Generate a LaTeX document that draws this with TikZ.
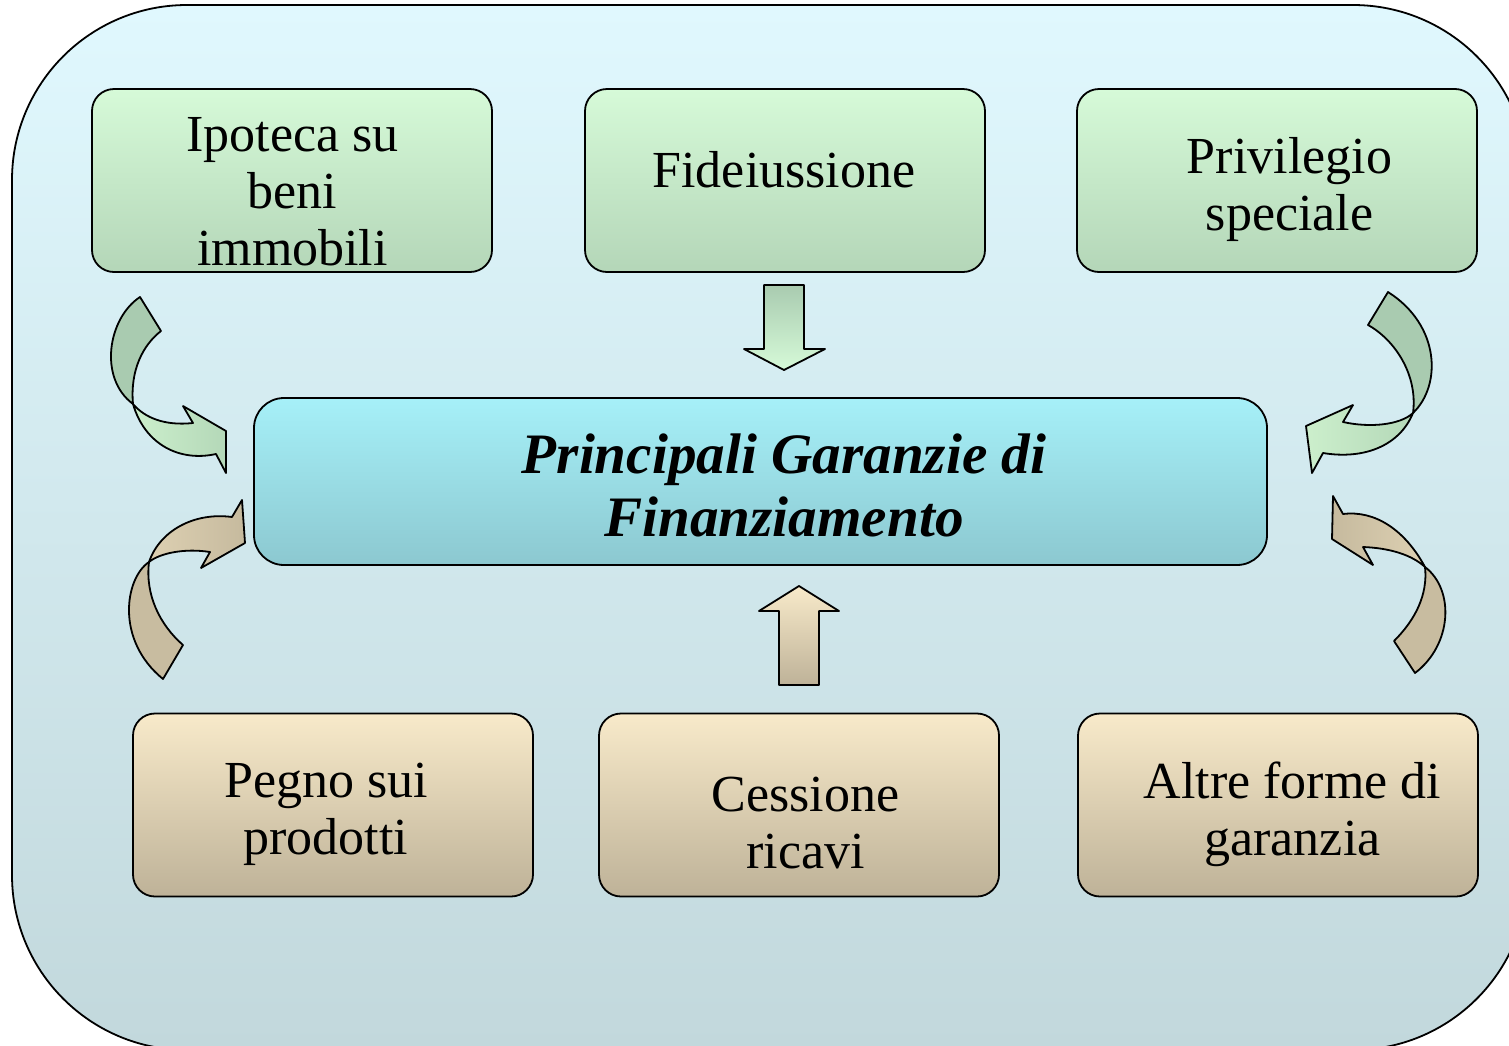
\documentclass[tikz,border=0pt]{standalone}
\usepackage{fontspec}
\setmainfont{Liberation Serif}
\definecolor{bgtop}{HTML}{E0F8FE}
\definecolor{bgbot}{HTML}{C2D8DC}
\definecolor{gtop}{HTML}{D6FAD8}
\definecolor{gbot}{HTML}{B4D6B8}
\definecolor{ctop}{HTML}{A6F0F8}
\definecolor{cbot}{HTML}{8CC8D0}
\definecolor{ttop}{HTML}{F8EACA}
\definecolor{tbot}{HTML}{BEB298}
\definecolor{gback}{HTML}{A9CBB0}
\definecolor{gfrontA}{HTML}{CCEFCC}
\definecolor{gfrontB}{HTML}{B4D8B8}
\definecolor{tback}{HTML}{C8BCA0}
\definecolor{tfrontA}{HTML}{DDD0B2}
\definecolor{tfrontB}{HTML}{C6BA9E}
\tikzset{
  box/.style={draw=black, line width=0.9pt, rounded corners=11pt, minimum width=200pt, minimum height=91.5pt, inner sep=0pt},
  gbox/.style={box, top color=gtop, bottom color=gbot},
  tbox/.style={box, top color=ttop, bottom color=tbot},
  cbox/.style={draw=black, line width=0.9pt, rounded corners=15pt, minimum width=506.5pt, minimum height=83.5pt, inner sep=0pt, top color=ctop, bottom color=cbot},
  txt/.style={align=center, inner sep=0pt, font=\fontsize{26}{28.5}\selectfont},
  ctxt/.style={align=center, inner sep=0pt, font=\fontsize{28.6}{31.5}\selectfont\bfseries\itshape},
  arr/.style={draw=black, line width=0.9pt, line join=round},
}
\begin{document}
\begin{tikzpicture}[x=0.5pt, y=-0.5pt]
\useasboundingbox (0,0) rectangle (1509,1045);
\clip (0,0) rectangle (1509,1045);
% background
\draw[line width=0.9pt, rounded corners=87.5pt, top color=bgtop, bottom color=bgbot] (12,5) rectangle (1528,1050);

% boxes
\node[gbox] (ipo) at (292,180.5) {};
\node[gbox] (fid) at (785,180.5) {};
\node[gbox] (pri) at (1277,180.5) {};
\node[cbox] (cen) at (760.5,481.5) {};
\node[tbox] (peg) at (333,805) {};
\node[tbox] (ces) at (799,805) {};
\node[tbox] (alt) at (1278,805) {};

% texts
\node[txt] (tipo) at (292.5,192) {Ipoteca su\\beni\\immobili};
\node[txt] (tfid) at (784,170) {Fideiussione};
\node[txt] (tpri) at (1289.5,189.5) {Privilegio\\speciale};
\node[ctxt] (tcen) at (784,485) {Principali Garanzie di\\Finanziamento};
\node[txt] (tpeg) at (326,814) {Pegno sui\\prodotti};
\node[txt] (tces) at (805.5,823.5) {Cessione\\ricavi};
\node[txt] (talt) at (1292.5,814) {Altre forme di\\garanzia};

% straight block arrows
\draw[arr, top color=gback, bottom color=gtop] (764,285) -- (804,285) -- (804,349) -- (825,349) -- (784,370) -- (744,349) -- (764,349) -- cycle;
\draw[arr, top color=ttop, bottom color=tbot] (799,586) -- (839,611) -- (819,611) -- (819,685) -- (779,685) -- (779,611) -- (759,611) -- cycle;

% upper-left curved arrow
\draw[arr, fill=gback] (140,297) -- (161,331) .. controls (143,345) and (130,370) .. (133,404) .. controls (98,378) and (108,318) .. (140,297) -- cycle;
\draw[arr, left color=gfrontA, right color=gfrontB] (133,404) .. controls (145,445) and (180,462) .. (216,454) -- (226,473) -- (226,431) -- (183,406) -- (193,423) .. controls (165,426) and (145,418) .. (133,404) -- cycle;

% lower-left curved arrow
\draw[arr, fill=tback] (163,679) -- (183,645) .. controls (160,625) and (145,595) .. (149,562) .. controls (125,578) and (115,640) .. (163,679) -- cycle;
\draw[arr, left color=tfrontA, right color=tfrontB] (149,562) .. controls (160,530) and (195,512) .. (232,517) -- (242,500) -- (245,543) -- (201,568) -- (210,552) .. controls (185,548) and (160,553) .. (149,562) -- cycle;

% upper-right curved arrow
\draw[arr, fill=gback] (1388,292) -- (1368,325) .. controls (1395,340) and (1418,375) .. (1413,413) .. controls (1442,385) and (1440,325) .. (1388,292) -- cycle;
\draw[arr, left color=gfrontA, right color=gfrontB] (1413,413) .. controls (1400,445) and (1365,460) .. (1323,453) -- (1312,473) -- (1306,426) -- (1353,405) -- (1343,422) .. controls (1370,428) and (1400,425) .. (1413,413) -- cycle;

% lower-right curved arrow
\draw[arr, fill=tback] (1415,673) -- (1394,641) .. controls (1415,620) and (1428,595) .. (1425,567) .. controls (1455,590) and (1452,645) .. (1415,673) -- cycle;
\draw[arr, left color=tfrontB, right color=tfrontA] (1425,567) .. controls (1405,530) and (1375,510) .. (1343,514) -- (1333,496) -- (1332,539) -- (1373,565) -- (1363,547) .. controls (1390,548) and (1412,555) .. (1425,567) -- cycle;
\end{tikzpicture}
\end{document}
